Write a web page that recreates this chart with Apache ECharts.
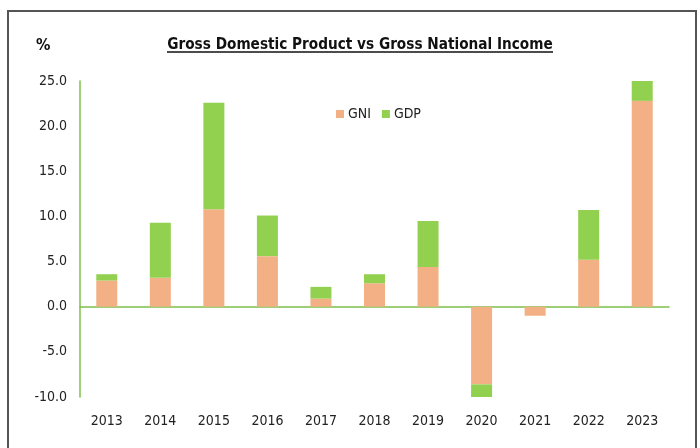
<!DOCTYPE html>
<html>
<head>
<meta charset="utf-8">
<script src="https://cdn.jsdelivr.net/npm/echarts@6/dist/echarts.min.js"></script>
<style>
  html, body { margin: 0; padding: 0; background: #fff; }
  #main { width: 700px; height: 448px; }
</style>
</head>
<body>
<div id="main"></div>
<script>
var years = ['2013', '2014', '2015', '2016', '2017', '2018', '2019', '2020', '2021', '2022', '2023'];
// GNI is the lower block, GDP stacked on top of it
var gni = [2.9, 3.2, 10.8, 5.6, 0.9, 2.6, 4.4, -8.6, -1.0, 5.2, 22.8];
var gdp = [0.7, 6.1, 11.8, 4.5, 1.3, 1.0, 5.1, -1.6, 0, 5.5, 2.4];

var font = '"Liberation Sans Narrow", "DejaVu Sans Condensed", "Liberation Sans", sans-serif';

var myChart = echarts.init(document.getElementById('main'));

var option = {
  animation: false,
  title: {
    text: 'Gross Domestic Product vs Gross National Income',
    left: 355,
    textAlign: 'center',
    top: 33,
    textStyle: { fontFamily: font, fontSize: 15.2, fontWeight: 'bold', color: '#111' }
  },
  legend: {
    data: ['GNI', 'GDP'],
    left: 331,
    top: 102,
    itemWidth: 8,
    itemHeight: 8,
    itemGap: 11,
    icon: 'rect',
    textStyle: { fontFamily: font, fontSize: 14, color: '#222', padding: [0, 0, 0, -1] }
  },
  grid: { left: 80, right: 31, top: 81, bottom: 51, containLabel: false },
  xAxis: {
    type: 'category',
    data: years,
    axisLine: { show: true, onZero: true, lineStyle: { color: '#7cc04a', width: 1.5 } },
    axisTick: { show: false },
    axisLabel: { fontFamily: font, fontSize: 14, color: '#222', margin: 17 }
  },
  yAxis: {
    type: 'value',
    min: -10,
    max: 25,
    interval: 5,
    name: '%',
    nameLocation: 'end',
    nameGap: 0,
    nameTextStyle: { fontFamily: font, fontSize: 16, fontWeight: 'bold', color: '#111', align: 'left', padding: [0, 0, 27, -44] },
    splitLine: { show: false },
    axisLine: { show: true, lineStyle: { color: '#7cc04a', width: 1.5 } },
    axisTick: { show: false },
    axisLabel: { fontFamily: font, fontSize: 14, color: '#222', margin: 13,
      formatter: function (v) { return v.toFixed(1); } }
  },
  series: [
    { name: 'GNI', type: 'bar', stack: 'tot', data: gni, barWidth: 21,
      itemStyle: { color: '#f2b084' } },
    { name: 'GDP', type: 'bar', stack: 'tot', data: gdp, barWidth: 21,
      itemStyle: { color: '#92d050' } }
  ],
  graphic: [
    { type: 'rect', shape: { x: 8, y: 11, width: 688, height: 460 },
      style: { fill: 'none', stroke: '#555', lineWidth: 2 }, silent: true },
    { type: 'line', shape: { x1: 167, y1: 52, x2: 553, y2: 52 },
      style: { stroke: '#111', lineWidth: 1.5 }, silent: true }
  ]
};

myChart.setOption(option);
</script>
</body>
</html>
